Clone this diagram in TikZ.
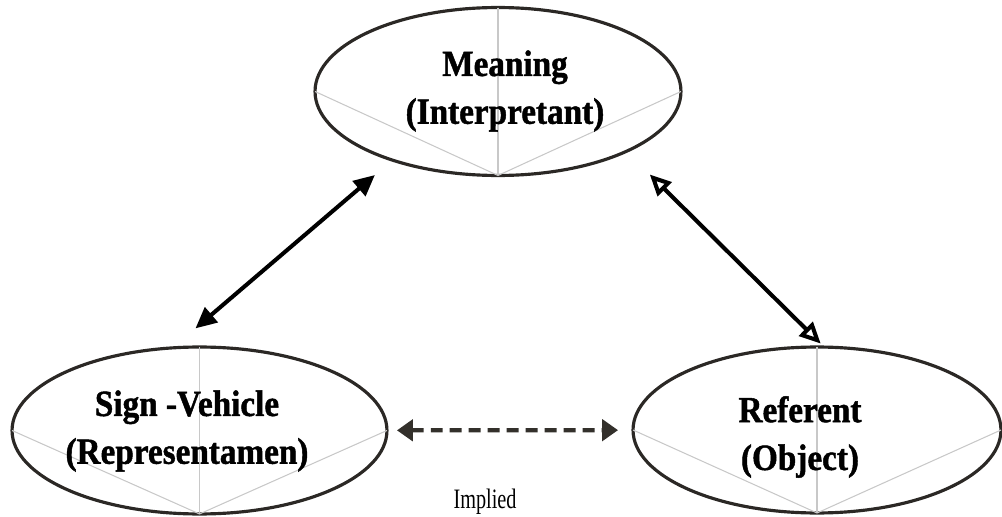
\documentclass[tikz,border=0pt]{standalone}
\usepackage{fontspec}
\setmainfont{Liberation Serif}
\newfontfamily\narrowfont{Liberation Serif}[FakeStretch=0.72]
\newfontfamily\headfont{Liberation Serif}[FakeStretch=0.9, BoldFeatures={FakeBold=1.2}]
\usetikzlibrary{shapes.geometric}
\usetikzlibrary{arrows.meta}
\definecolor{rim}{HTML}{2B2825}
\definecolor{spoke}{HTML}{C8C8C8}
\definecolor{dashcol}{HTML}{33302B}
\tikzset{
	blob/.style={ellipse, draw=rim, line width=1.8pt, inner sep=0pt, outer sep=0pt},
	spokeline/.style={draw=spoke, line width=0.6pt},
	lbl/.style={font=\headfont\fontsize{21}{27.2}\selectfont\bfseries, align=center},
	link/.style={line width=2.3pt, {Triangle[length=12pt,width=11pt]}-{Triangle[length=12pt,width=11pt]}},
	openlink/.style={line width=2.3pt, {Triangle[open,length=12pt,width=11pt,fill=white]}-{Triangle[open,length=12pt,width=11pt,fill=white]}},
	impliedline/.style={draw=dashcol, line width=2.4pt, dash pattern=on 6.8pt off 4pt,
		{Triangle[length=9pt,width=12pt]}-{Triangle[length=9pt,width=12pt]}}
}

\begin{document}
\begin{tikzpicture}[x=0.02cm, y=-0.02cm]
	\useasboundingbox (0,0) rectangle (1002,517);
	\node[blob, minimum width=7.32cm, minimum height=3.36cm] (meaning) at (498,91.5) {};
	\node[blob, minimum width=7.5cm, minimum height=3.34cm] (sign) at (199.5,430.5) {};
	\node[blob, minimum width=7.36cm, minimum height=3.32cm] (referent) at (817,430) {};
	\foreach \e in {meaning, sign, referent} {
		\draw[spokeline] (\e.west) -- (\e.south) -- (\e.east);
		\draw[spokeline] (\e.north) -- (\e.south);
	}
	\node[lbl] (meaningtxt) at (505,91) {Meaning\\(Interpretant)};
	\node[lbl] (signtxt) at (187,431) {Sign -Vehicle\\(Representamen)};
	\node[lbl] (referenttxt) at (800,437) {Referent\\(Object)};
	\draw[link, shorten <=0.46cm, shorten >=0.6cm] (meaning.213) -- (sign.108);
	\draw[openlink, shorten <=0.66cm, shorten >=0.1cm] (meaning.335) -- (referent.85);
	\draw[impliedline, shorten <=0.2cm, shorten >=0.3cm] (sign) -- (referent);
	\node[font=\narrowfont\fontsize{16}{18}\selectfont] (implied) at (485,502) {Implied};
\end{tikzpicture}
\end{document}
